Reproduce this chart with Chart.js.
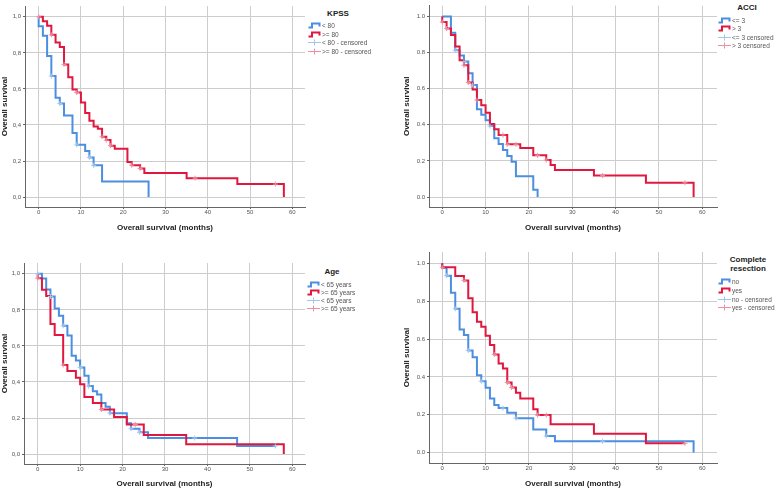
<!DOCTYPE html>
<html>
<head>
<meta charset="utf-8">
<script src="https://cdn.jsdelivr.net/npm/chart.js@4.4.1/dist/chart.umd.min.js"></script>
<style>
    body { margin: 0; width: 777px; height: 490px; position: relative; overflow: hidden; background: #fff; font-family: "Liberation Sans", Arial, sans-serif; }
    canvas { position: absolute; }
    .lg-title { position: absolute; font-weight: bold; font-size: 8px; color: #222; text-align: center; line-height: 8.6px; transform: translate(-50%, -50%); white-space: nowrap; }
    .lg { position: absolute; font-size: 6.5px; color: #555; white-space: nowrap; }
    .lg div { display: flex; align-items: center; }
    .lg svg { flex: none; margin-right: 1px; }
</style>
</head>
<body>
<canvas id="kpss" width="310" height="240" style="left:0;top:0"></canvas>
<canvas id="acci" width="320" height="240" style="left:402px;top:0"></canvas>
<canvas id="age" width="310" height="245" style="left:0;top:245px"></canvas>
<canvas id="resection" width="320" height="245" style="left:402px;top:245px"></canvas>
<script>
// time (months) / survival pairs, plus censoring times
const KPSS_LOW_T = [0, 0, 1, 2, 3, 4, 5, 6, 8, 9, 11, 12, 13, 15, 26];
const KPSS_LOW_S = [1, 0.948, 0.895, 0.782, 0.671, 0.551, 0.519, 0.453, 0.355, 0.29, 0.255, 0.22, 0.176, 0.087, 0];
const KPSS_LOW_C = [3, 5, 9, 12, 13];
const KPSS_HIGH_T = [0, 1, 2, 3, 4, 5, 6, 7, 8, 9, 10, 11, 12, 13, 14, 15, 16, 17, 18, 21, 22, 24, 25, 35, 47, 58];
const KPSS_HIGH_S = [1, 0.976, 0.95, 0.9, 0.858, 0.832, 0.736, 0.665, 0.597, 0.58, 0.525, 0.466, 0.423, 0.392, 0.379, 0.335, 0.316, 0.285, 0.268, 0.194, 0.177, 0.159, 0.133, 0.105, 0.072, 0];
const KPSS_HIGH_C = [0, 3, 6, 9, 15, 16, 17, 22, 24, 37, 56];

const ACCI_LOW_T = [0, 2, 3, 4, 5, 6, 7, 8, 9, 10, 11, 12, 13, 14, 15, 16, 17, 21, 22];
const ACCI_LOW_S = [1, 0.91, 0.813, 0.784, 0.75, 0.685, 0.62, 0.486, 0.456, 0.425, 0.393, 0.326, 0.294, 0.261, 0.227, 0.195, 0.115, 0.04, 0];
const ACCI_LOW_C = [3, 5, 7, 11];
const ACCI_HIGH_T = [0, 0, 1, 2, 3, 4, 5, 6, 7, 8, 9, 10, 11, 12, 13, 15, 18, 21, 24, 25, 26, 35, 47, 58];
const ACCI_HIGH_S = [1, 0.969, 0.933, 0.897, 0.834, 0.757, 0.73, 0.634, 0.595, 0.537, 0.508, 0.467, 0.404, 0.375, 0.344, 0.292, 0.272, 0.231, 0.205, 0.177, 0.15, 0.119, 0.079, 0];
const ACCI_HIGH_C = [0, 1, 5, 6, 8, 14, 15, 17, 22, 24, 37, 56];

const AGE_LOW_T = [0, 1, 2, 3, 4, 5, 6, 7, 8, 9, 10, 11, 12, 13, 14, 15, 16, 17, 21, 22, 24, 26, 47, 56];
const AGE_LOW_S = [1, 0.974, 0.913, 0.874, 0.807, 0.767, 0.712, 0.658, 0.546, 0.519, 0.48, 0.435, 0.377, 0.348, 0.331, 0.283, 0.262, 0.227, 0.171, 0.141, 0.121, 0.089, 0.045, 0.045];
const AGE_LOW_C = [0, 3, 6, 10, 12, 17, 22, 24, 37, 56];
const AGE_HIGH_T = [0, 0, 1, 2, 3, 4, 6, 7, 9, 10, 11, 13, 15, 18, 21, 25, 35, 58];
const AGE_HIGH_S = [1, 0.976, 0.911, 0.877, 0.721, 0.66, 0.494, 0.461, 0.424, 0.387, 0.316, 0.283, 0.247, 0.206, 0.164, 0.106, 0.054, 0];
const AGE_HIGH_C = [0, 6, 15, 23];

const RES_NO_T = [0, 0, 1, 2, 3, 4, 5, 6, 7, 8, 9, 10, 11, 12, 13, 15, 17, 21, 24, 26, 58];
const RES_NO_S = [1, 0.977, 0.935, 0.845, 0.76, 0.651, 0.621, 0.54, 0.504, 0.409, 0.377, 0.342, 0.286, 0.252, 0.235, 0.21, 0.182, 0.122, 0.088, 0.06, 0];
const RES_NO_C = [1, 3, 6, 9, 14, 17, 24, 37];
const RES_YES_T = [0, 0, 3, 5, 6, 7, 8, 9, 10, 11, 12, 13, 14, 15, 16, 17, 18, 21, 22, 25, 35, 47, 56];
const RES_YES_S = [1, 0.979, 0.933, 0.91, 0.815, 0.741, 0.691, 0.665, 0.617, 0.568, 0.519, 0.471, 0.444, 0.37, 0.344, 0.316, 0.286, 0.229, 0.198, 0.15, 0.1, 0.049, 0.049];
const RES_YES_C = [0, 5, 12, 15, 16, 22, 24, 56];

const X_TICKS = [0, 10, 20, 30, 40, 50, 60];
const Y_TICKS = [0, 0.2, 0.4, 0.6, 0.8, 1.0];
const Y_LABELS_COMMA = ['0,0', '0,2', '0,4', '0,6', '0,8', '1,0'];
const Y_LABELS_DOT = ['0.0', '0.2', '0.4', '0.6', '0.8', '1.0'];

const KPSS_LABELS = ['< 80', '>= 80', '< 80 - censored', '>= 80 - censored'];
const ACCI_LABELS = ['<= 3', '> 3', '<= 3 censored', '> 3 censored'];
const AGE_LABELS = ['< 65 years', '>= 65 years', '< 65 years', '>= 65 years'];
const RES_LABELS = ['no', 'yes', 'no - censored', 'yes - censored'];

const BLUE = '#4c8fe0';
const RED = '#e0183f';
const BLUE_LIGHT = '#a3c6ef';
const RED_LIGHT = '#ef8fa3';
const GRID = '#cdcdcd';
const AXIS = '#666';
const FONT = '"Liberation Sans", Arial, sans-serif';

function steps(t, s) {
    return t.map((x, i) => ({ x, y: s[i] }));
}

function censorMarks(t, s, c) {
    return c.map((x) => {
        let y = s[0];
        t.forEach((tt, i) => { if (tt <= x) y = s[i]; });
        return { x, y };
    });
}

function kmChart(id, curves, yLabels, box) {
    const datasets = [];
    curves.forEach((cv, i) => {
        datasets.push({
            data: steps(cv.t, cv.s),
            stepped: true,
            borderColor: cv.color,
            borderWidth: 2,
            pointRadius: 0,
            fill: false,
            order: 3 - i,
        });
    });
    curves.forEach((cv) => {
        datasets.push({
            data: censorMarks(cv.t, cv.s, cv.c),
            showLine: false,
            pointStyle: 'cross',
            pointRadius: 2.5,
            pointBorderWidth: 1,
            pointBorderColor: cv.light,
            order: 0,
        });
    });

    new Chart(document.getElementById(id), {
        type: 'line',
        data: { datasets },
        options: {
            responsive: false,
            animation: false,
            layout: { padding: { top: box.top, right: box.right, bottom: 0, left: 0 } },
            plugins: { legend: { display: false }, tooltip: { enabled: false } },
            scales: {
                x: {
                    type: 'linear',
                    min: box.xmin,
                    max: box.xmax,
                    afterBuildTicks: (s) => { s.ticks = X_TICKS.map((v) => ({ value: v })); },
                    afterFit: (s) => { s.height = box.xh; },
                    grid: { color: GRID, lineWidth: 1, tickLength: 2, tickColor: AXIS },
                    border: { display: true, color: AXIS, width: 1 },
                    ticks: { color: '#555', font: { family: FONT, size: 6 }, padding: 0, maxRotation: 0 },
                    title: { display: true, text: 'Overall survival (months)', color: '#222', font: { family: FONT, size: 8, weight: 'bold' }, padding: { top: 0, bottom: box.tpad } },
                },
                y: {
                    min: -0.055,
                    max: 1.06,
                    afterBuildTicks: (s) => { s.ticks = Y_TICKS.map((v) => ({ value: v })); },
                    afterFit: (s) => { s.width = box.yw; },
                    grid: { color: GRID, lineWidth: 1, tickLength: 2, tickColor: AXIS },
                    border: { display: true, color: AXIS, width: 1 },
                    ticks: { color: '#555', font: { family: FONT, size: 6 }, padding: 2, callback: (v, i) => yLabels[i] },
                    title: { display: true, text: 'Overall survival', color: '#222', font: { family: FONT, size: 8, weight: 'bold' }, padding: 0 },
                },
            },
        },
    });
}

function legend(title, labels, pos) {
    const t = document.createElement('div');
    t.className = 'lg-title';
    t.style.left = pos.tx + 'px';
    t.style.top = pos.ty + 'px';
    t.innerHTML = title;
    document.body.appendChild(t);

    const box = document.createElement('div');
    box.className = 'lg';
    box.style.left = pos.x + 'px';
    box.style.top = pos.y + 'px';
    const cols = [BLUE, RED, BLUE_LIGHT, RED_LIGHT];
    labels.forEach((text, i) => {
        const row = document.createElement('div');
        row.style.height = pos.row + 'px';
        const icon = i < 2
            ? `<path d="M0.5 5.5H4V1.5H11.5V4.5" stroke="${cols[i]}" stroke-width="2" fill="none"/>`
            : `<path d="M0 3.5H13M6.5 0.5V6.5" stroke="${cols[i]}" stroke-width="1" fill="none"/>`;
        row.innerHTML = `<svg width="13" height="7">${icon}</svg><span>${text}</span>`;
        box.appendChild(row);
    });
    document.body.appendChild(box);
}

kmChart('kpss', [
    { t: KPSS_LOW_T, s: KPSS_LOW_S, c: KPSS_LOW_C, color: BLUE, light: BLUE_LIGHT },
    { t: KPSS_HIGH_T, s: KPSS_HIGH_S, c: KPSS_HIGH_C, color: RED, light: RED_LIGHT },
], Y_LABELS_COMMA, { top: 6, right: 4, xh: 33, yw: 25, tpad: 7, xmin: -3.23, xmax: 63.0 });

kmChart('acci', [
    { t: ACCI_LOW_T, s: ACCI_LOW_S, c: ACCI_LOW_C, color: BLUE, light: BLUE_LIGHT },
    { t: ACCI_HIGH_T, s: ACCI_HIGH_S, c: ACCI_HIGH_C, color: RED, light: RED_LIGHT },
], Y_LABELS_DOT, { top: 0, right: 4, xh: 33, yw: 27, tpad: 7, xmin: -3.06, xmax: 63.4 });

kmChart('age', [
    { t: AGE_LOW_T, s: AGE_LOW_S, c: AGE_LOW_C, color: BLUE, light: BLUE_LIGHT },
    { t: AGE_HIGH_T, s: AGE_HIGH_S, c: AGE_HIGH_C, color: RED, light: RED_LIGHT },
], Y_LABELS_COMMA, { top: 18, right: 4, xh: 26, yw: 24, tpad: 1, xmin: -3.23, xmax: 63.0 });

kmChart('resection', [
    { t: RES_NO_T, s: RES_NO_S, c: RES_NO_C, color: BLUE, light: BLUE_LIGHT },
    { t: RES_YES_T, s: RES_YES_S, c: RES_YES_C, color: RED, light: RED_LIGHT },
], Y_LABELS_DOT, { top: 7, right: 4, xh: 27, yw: 27, tpad: 1, xmin: -3.06, xmax: 63.4 });

legend('KPSS', KPSS_LABELS, { tx: 338, ty: 14, x: 308, y: 21.8, row: 8.4 });
legend('ACCI', ACCI_LABELS, { tx: 747, ty: 7.5, x: 718, y: 15.7, row: 8.67 });
legend('Age', AGE_LABELS, { tx: 332, ty: 272, x: 307, y: 280, row: 8.1 });
legend('Complete<br>resection', RES_LABELS, { tx: 748, ty: 265, x: 718, y: 277.4, row: 8.67 });
</script>
</body>
</html>
